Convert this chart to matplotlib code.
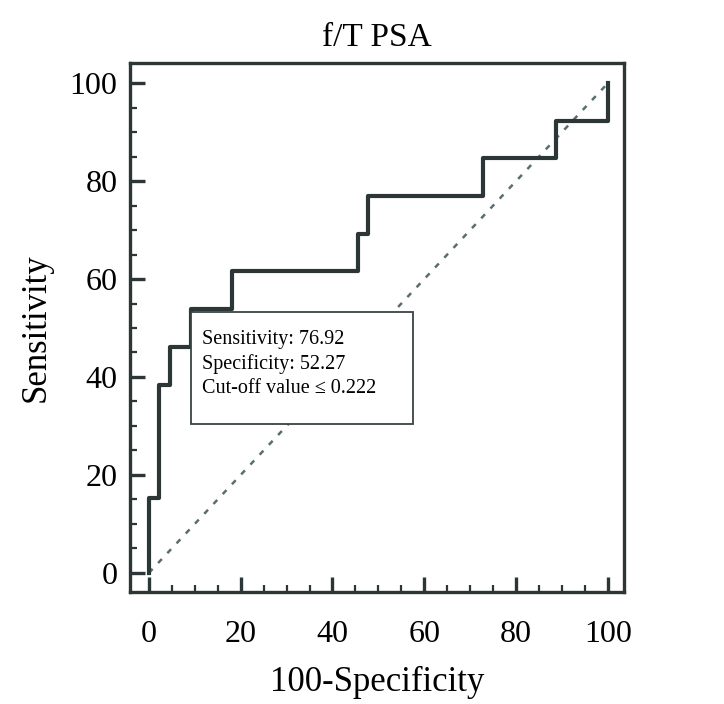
import matplotlib

matplotlib.use("Agg")
import matplotlib.pyplot as plt
from matplotlib.patches import Rectangle
from matplotlib.ticker import MultipleLocator

# ROC operating points (100-Specificity, Sensitivity), drawn as post-steps
fpr = [0.0, 0.0, 2.27, 4.55, 9.09, 18.18, 45.45, 47.73, 72.73, 88.64, 100.0]
tpr = [0.0, 15.38, 38.46, 46.15, 53.85, 61.54, 69.23, 76.92, 84.62, 92.31, 100.0]

ref_line = [0.0, 100.0]
tick_values = [0, 20, 40, 60, 80, 100]

title = "f/T PSA"
x_label = "100-Specificity"
y_label = "Sensitivity"
box_lines = ["Sensitivity: 76.92", "Specificity: 52.27", "Cut-off value \u2264 0.222"]

line_color = "#2d3636"
diag_color = "#5a6e6e"

plt.rcParams["font.family"] = ["Liberation Serif", "DejaVu Serif"]

fig = plt.figure(figsize=(7.24, 7.04), dpi=100)
ax = fig.add_axes([0.1796, 0.1591, 0.6823, 0.7514])

ax.plot(ref_line, ref_line, color=diag_color, linewidth=1.8, dashes=(2.2, 3.2), zorder=2)
ax.step(fpr, tpr, where="post", color=line_color, linewidth=3.0, zorder=3)

# info box with the chosen cut-off
ax.add_patch(Rectangle((9.15, 30.4), 48.3, 22.9, facecolor="white",
                       edgecolor="#3a4444", linewidth=1.3, zorder=4))
for i, txt in enumerate(box_lines):
    ax.text(11.5, 47.6 - i * 5.0, txt, fontsize=14.5, va="center", ha="left", zorder=5)

ax.set_xlim(-4.1, 103.5)
ax.set_ylim(-3.9, 104.1)
ax.set_xticks(tick_values)
ax.set_yticks(tick_values)
ax.xaxis.set_minor_locator(MultipleLocator(5))
ax.yaxis.set_minor_locator(MultipleLocator(5))
ax.tick_params(which="major", direction="in", length=11, width=2.4, color=line_color, labelsize=23)
ax.tick_params(which="minor", direction="in", length=5, width=1.6, color=line_color)
ax.tick_params(axis="x", which="major", pad=20)
ax.tick_params(axis="y", which="major", pad=9)
for spine in ax.spines.values():
    spine.set_linewidth(2.4)
    spine.set_color(line_color)

ax.set_title(title, fontsize=24, pad=12)
ax.set_xlabel(x_label, fontsize=25, labelpad=12)
ax.set_ylabel(y_label, fontsize=25, labelpad=12)

fig.savefig("out.png", dpi=100)
